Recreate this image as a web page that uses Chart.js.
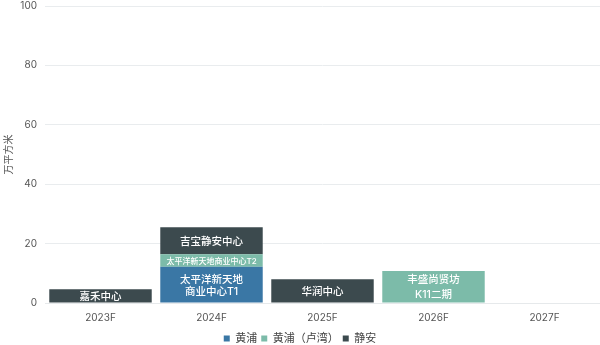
<!DOCTYPE html>
<html>
<head>
<meta charset="utf-8">
<script src="https://cdn.jsdelivr.net/npm/chart.js@4"></script>
<style>
  html, body { margin: 0; padding: 0; background: #fff; }
  #wrap { width: 600px; height: 345px; }
</style>
</head>
<body>
<div id="wrap"><canvas id="supplyChart"></canvas></div>
<script>
// 年份
const years = ['2023F', '2024F', '2025F', '2026F', '2027F'];

// 各区域新增供应（万平方米）
const huangpu = [null, 12.2, null, null, null];
const luwan = [null, 4.2, null, 10.8, null];
const jingan = [4.6, 9.1, 8.0, null, null];

// 柱内项目名称
const huangpuNames = ['', ['太平洋新天地', '商业中心T1'], '', '', ''];
const luwanNames = ['', '太平洋新天地商业中心T2', '', ['丰盛尚贤坊', 'K11二期'], ''];
const jinganNames = ['嘉禾中心', '吉宝静安中心', '华润中心', '', ''];

const yTicks = [0, 20, 40, 60, 80, 100];

const FONT = "Inter, 'Noto Sans CJK SC', sans-serif";

// 在每段柱子里写项目名
const barNames = {
    id: 'barNames',
    afterDatasetsDraw(chart) {
        const ctx = chart.ctx;
        chart.data.datasets.forEach(function (ds, i) {
            const meta = chart.getDatasetMeta(i);
            meta.data.forEach(function (bar, j) {
                const name = ds.names[j];
                const v = ds.data[j];
                if (!name || v == null) return;
                const lines = Array.isArray(name) ? name : [name];
                const long = lines[0].length > 8;
                const size = long ? 8 : 10.5;
                const h = Math.abs(bar.base - bar.y);
                const lh = h > 34 ? 12.5 : 15;
                const cy = (bar.y + bar.base) / 2;
                ctx.save();
                ctx.fillStyle = '#ffffff';
                ctx.font = '500 ' + size + 'px ' + FONT;
                ctx.textAlign = 'center';
                ctx.textBaseline = 'middle';
                lines.forEach(function (t, k) {
                    ctx.fillText(t, bar.x, cy + 1 + (k - (lines.length - 1) / 2) * lh);
                });
                ctx.restore();
            });
        });
    }
};

const canvas = document.getElementById('supplyChart');

new Chart(canvas, {
    type: 'bar',
    data: {
        labels: years,
        datasets: [
            { label: '黄浦', data: huangpu, names: huangpuNames, backgroundColor: '#3a77a5' },
            { label: '黄浦（卢湾）', data: luwan, names: luwanNames, backgroundColor: '#7cbba9' },
            { label: '静安', data: jingan, names: jinganNames, backgroundColor: '#3c4a4e' }
        ]
    },
    options: {
        responsive: true,
        maintainAspectRatio: false,
        animation: false,
        layout: { padding: { top: 0, right: 0, left: 0, bottom: -9 } },
        datasets: {
            bar: { categoryPercentage: 0.923, barPercentage: 1.0 }
        },
        plugins: {
            legend: {
                position: 'bottom',
                labels: {
                    boxWidth: 6,
                    boxHeight: 6,
                    padding: 4,
                    color: '#444',
                    font: { family: FONT, size: 11 }
                }
            },
            tooltip: { enabled: false }
        },
        scales: {
            x: {
                stacked: true,
                grid: { display: false, drawTicks: false },
                border: { color: '#e6e9eb' },
                ticks: { color: '#555', font: { family: FONT, size: 10 }, padding: 9 },
                afterFit(axis) { axis.height = 26; }
            },
            y: {
                stacked: true,
                min: 0,
                max: 100,
                afterBuildTicks(axis) {
                    axis.ticks = yTicks.map(function (v) { return { value: v }; });
                },
                afterFit(axis) { axis.width = 45; },
                grid: { color: '#e9ecee', drawTicks: true, tickLength: 8, tickColor: 'rgba(0,0,0,0)' },
                border: { display: false },
                ticks: { color: '#555', font: { family: FONT, size: 10 }, padding: 0 },
                title: {
                    display: true,
                    text: '万平方米',
                    color: '#555',
                    padding: { top: 3, bottom: 2 },
                    font: { family: FONT, size: 10 }
                }
            }
        }
    },
    plugins: [barNames]
});
</script>
</body>
</html>
